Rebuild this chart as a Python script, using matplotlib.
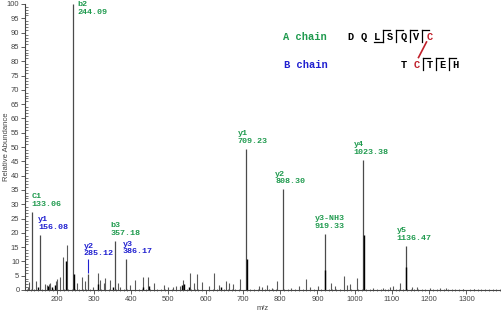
import matplotlib
matplotlib.use("Agg")
import matplotlib.pyplot as plt
from matplotlib.ticker import MultipleLocator
from matplotlib.lines import Line2D

# annotated fragment peaks
ion_names = ["C1", "y1", "b2", "y2", "b3", "y3", "y1", "y2", "y3-NH3", "y4", "y5"]
ion_mz = [133.06, 156.08, 244.09, 285.12, 357.18, 386.17, 709.23, 808.30, 919.33, 1023.38, 1136.47]
ion_int = [27.3, 19.3, 100.0, 5.5, 17.1, 10.7, 49.3, 35.2, 19.6, 45.5, 15.5]
ion_chain = ["A", "B", "A", "B", "A", "B", "A", "A", "A", "A", "A"]

# other (unlabelled) peaks, gray
other_mz = [123, 127, 145, 169, 174, 180, 183, 199, 202, 208, 218, 227, 254, 268, 277,
            297, 310, 317, 326, 330, 342, 364, 371, 397, 411, 431, 446, 460, 487, 500,
            512, 520, 530, 539, 557, 568, 577, 591, 608, 623, 636, 654, 663, 672, 691,
            742, 752, 765, 778, 791, 830, 850, 868, 880, 901, 937, 946, 970, 980, 988,
            1006, 1050, 1075, 1094, 1103, 1121, 1154, 1168, 1203, 1230, 1244, 1290, 1320]
other_int = [1.2, 2.9, 3.1, 2.0, 1.7, 2.2, 2.3, 3.0, 4.0, 4.5, 11.4, 15.7, 2.4, 4.5, 3.0,
             1.0, 6.0, 3.5, 2.6, 4.3, 3.5, 2.3, 1.0, 1.6, 3.5, 4.7, 4.7, 2.4, 1.6, 1.0,
             1.2, 1.4, 1.5, 3.5, 6.0, 2.3, 5.6, 2.9, 1.5, 6.0, 1.9, 3.3, 2.5, 2.0, 3.7,
             1.5, 1.0, 1.7, 0.8, 3.0, 0.8, 1.4, 4.0, 0.9, 1.3, 2.6, 1.4, 4.9, 1.8, 2.1,
             4.1, 0.6, 0.7, 1.0, 1.3, 2.6, 1.0, 1.0, 0.7, 0.7, 0.7, 0.5, 0.4]

# shorter peaks drawn in black
black_mz = [151, 176, 188, 196, 226, 246, 312, 352, 433, 447, 537, 543, 554, 640, 709.6, 921, 1024, 1137]
black_int = [1.0, 1.3, 1.0, 1.8, 10.0, 5.5, 2.0, 1.2, 1.0, 1.3, 1.6, 2.2, 1.2, 1.0, 11.0, 7.0, 19.2, 8.1]

seq_a = list("DQLSQVC")
seq_b = list("TCTEH")

GREEN = "#1f9a4e"
BLUE = "#2020d0"
RED = "#c0202a"
mono = "Liberation Mono"
sans = "Liberation Sans"

fig = plt.figure(figsize=(5.02, 3.12), dpi=100)
ax = fig.add_axes([25 / 502, 22 / 312, 475 / 502, 286 / 312])

ax.vlines(other_mz, 0, other_int, color="#5a5a5a", lw=0.8)
ax.vlines(ion_mz, 0, ion_int, color="#4a4a4a", lw=0.9)
ax.vlines(black_mz, 0, black_int, color="black", lw=1.0)

# peak labels
dx_px = [0, -2, 4, -5, -5, -3, -9, -8, -10, -10, -9]
for i, name in enumerate(ion_names):
    col = GREEN if ion_chain[i] == "A" else BLUE
    txt = name + "\n" + format(ion_mz[i], ".2f")
    if ion_int[i] >= 99:
        ax.annotate(txt, (ion_mz[i], ion_int[i]), xytext=(dx_px[i], 3),
                    textcoords="offset pixels", ha="left", va="top",
                    fontsize=6, family=mono, weight="bold", color=col, linespacing=1.15)
    elif ion_int[i] < 8:
        ax.vlines(ion_mz[i], ion_int[i] + 0.5, ion_int[i] + 5.2, color=BLUE, lw=0.8)
        ax.annotate(txt, (ion_mz[i], ion_int[i]), xytext=(dx_px[i], 17),
                    textcoords="offset pixels", ha="left", va="bottom",
                    fontsize=6, family=mono, weight="bold", color=col, linespacing=1.15)
    else:
        ax.annotate(txt, (ion_mz[i], ion_int[i]), xytext=(dx_px[i], 4),
                    textcoords="offset pixels", ha="left", va="bottom",
                    fontsize=6, family=mono, weight="bold", color=col, linespacing=1.15)

ax.set_xlim(115, 1390)
ax.set_ylim(0, 100)
ax.xaxis.set_major_locator(MultipleLocator(100))
ax.xaxis.set_minor_locator(MultipleLocator(10))
ax.yaxis.set_major_locator(MultipleLocator(5))
ax.yaxis.set_minor_locator(MultipleLocator(1))
for s in ["top", "right"]:
    ax.spines[s].set_visible(False)
for s in ["left", "bottom"]:
    ax.spines[s].set_color("#444444")
    ax.spines[s].set_linewidth(0.8)
ax.tick_params(axis="both", which="major", labelsize=5.5, colors="#444444", length=3, width=0.6, pad=1)
ax.tick_params(axis="y", which="minor", direction="in", length=2, width=0.5, colors="#444444")
ax.tick_params(axis="x", which="minor", direction="inout", length=2, width=0.5, colors="#444444")
for lab in ax.get_xticklabels() + ax.get_yticklabels():
    lab.set_family(sans)
ax.set_xlabel("m/z", fontsize=5.5, family=sans, color="#444444", labelpad=2)
ax.set_ylabel("Relative Abundance", fontsize=5.5, family=sans, color="#444444")
ax.yaxis.set_label_coords(-0.031, 0.5)

# sequence panel (pixel positions from top-left)
def fx(x):
    return x / 502

def fy(y):
    return 1 - y / 312

fig.text(fx(283), fy(37), "A chain", fontsize=7.5, family=mono, weight="bold", color=GREEN, va="center")
fig.text(fx(284), fy(65), "B chain", fontsize=7.5, family=mono, weight="bold", color=BLUE, va="center")

for i, ch in enumerate(seq_a):
    col = RED if ch == "C" else "black"
    fig.text(fx(351 + i * 13.1), fy(37), ch, fontsize=7.5, family=mono, weight="bold",
             color=col, ha="center", va="center")
for i, ch in enumerate(seq_b):
    col = RED if ch == "C" else "black"
    fig.text(fx(404 + i * 12.9), fy(65), ch, fontsize=7.5, family=mono, weight="bold",
             color=col, ha="center", va="center")

def bracket(xb, ytop, ybot, over=True, under=False):
    lw = 0.9
    fig.add_artist(Line2D([fx(xb), fx(xb)], [fy(ytop), fy(ybot)], color="black", lw=lw))
    if over:
        fig.add_artist(Line2D([fx(xb), fx(xb + 7)], [fy(ytop), fy(ytop)], color="black", lw=lw))
    if under:
        fig.add_artist(Line2D([fx(xb - 9), fx(xb)], [fy(ybot), fy(ybot)], color="black", lw=lw))

bracket(383.5, 30, 42, over=True, under=True)
for xb in [396.5, 409.5, 422.5]:
    bracket(xb, 30, 42)
for xb in [423, 436, 449]:
    bracket(xb, 58, 70)

fig.add_artist(Line2D([fx(426.5), fx(418.5)], [fy(42), fy(57.5)], color=RED, lw=1.2))

fig.savefig("out.png", dpi=100)
